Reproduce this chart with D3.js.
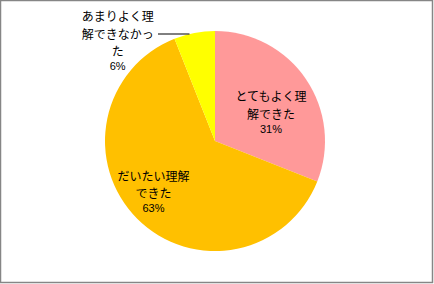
<!DOCTYPE html>
<html>
<head>
<meta charset="utf-8">
<script src="https://cdn.jsdelivr.net/npm/d3@7"></script>
<style>
  body { margin: 0; background: #fff; }
  text { font-family: "Noto Sans CJK JP", sans-serif; fill: #000; }
  .pct { font-family: "Liberation Sans", Arial, sans-serif; }
</style>
</head>
<body>
<div id="chart"></div>
<script>
const categories = ['とてもよく理解できた', 'だいたい理解できた', 'あまりよく理解できなかった']
const values = [31, 63, 6]
const labelLines = [['とてもよく理', '解できた'], ['だいたい理解', 'できた'], ['あまりよく理', '解できなかっ', 'た']]
const colors = ['#FF9999', '#FFC000', '#FFFF00']

const W = 434, H = 284
const cx = 215, cy = 141, r = 110

const svg = d3.select('#chart')
  .append('svg')
  .attr('width', W)
  .attr('height', H)

svg.append('rect')
  .attr('x', 0.5).attr('y', 0.5)
  .attr('width', W - 2).attr('height', H - 2)
  .attr('fill', '#fff')
  .attr('stroke', '#868686')
  .attr('stroke-width', 1.5)

const g = svg.append('g').attr('transform', `translate(${cx}, ${cy})`)

const pie = d3.pie().sort(null).value(d => d)
const arcs = pie(values)
const arc = d3.arc().innerRadius(0).outerRadius(r)
const total = d3.sum(values)

g.selectAll('path')
  .data(arcs).enter()
  .append('path')
    .attr('d', arc)
    .attr('fill', (d, i) => colors[i])

// label placement: radius along the slice middle, then a nudge (dx, first-baseline dy)
const labelR = [64, 80, 130]
const nudge = [[3, -4], [-5, -17], [-73, 8]]
const lineH = 17.5, pctGap = 14

arcs.forEach((d, i) => {
  const a = d3.arc().innerRadius(labelR[i]).outerRadius(labelR[i])
  const c = a.centroid(d)
  const x = c[0] + nudge[i][0]
  const y = c[1] + nudge[i][1]
  const t = g.append('text').attr('text-anchor', 'middle')
  labelLines[i].forEach((s, k) => {
    t.append('tspan')
      .attr('x', x)
      .attr('y', y + k * lineH)
      .attr('font-size', 12)
      .text(s)
  })
  g.append('text')
    .attr('class', 'pct')
    .attr('text-anchor', 'middle')
    .attr('x', x)
    .attr('y', y + (labelLines[i].length - 1) * lineH + pctGap)
    .attr('font-size', 11)
    .text(Math.round(d.value / total * 100) + '%')
})

// leader line for the small slice, ends at the pie edge
const ly = -107
g.append('line')
  .attr('x1', -57).attr('y1', ly)
  .attr('x2', -Math.sqrt(r * r - ly * ly)).attr('y2', ly)
  .attr('stroke', '#000')
  .attr('stroke-width', 1)
</script>
</body>
</html>
